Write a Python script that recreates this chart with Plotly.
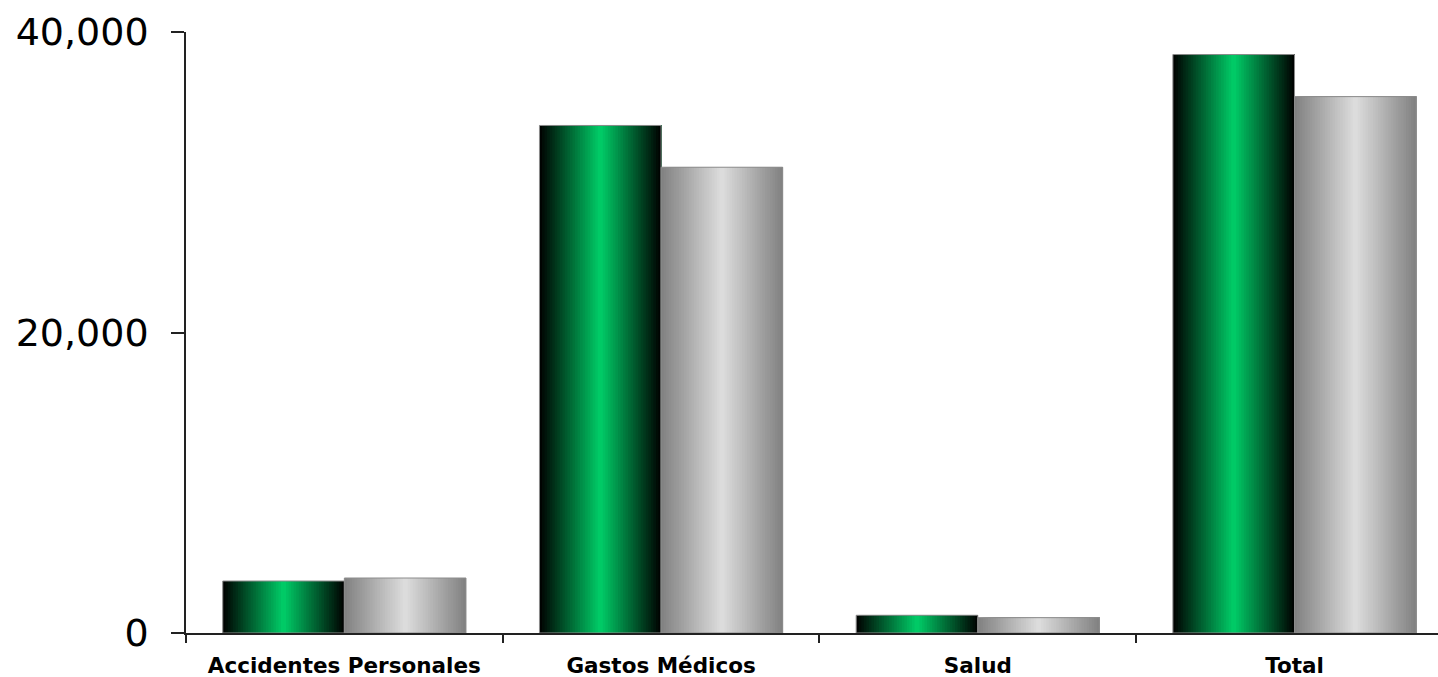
import plotly.graph_objects as go

# Data
categorias = ["Accidentes Personales", "Gastos Médicos", "Salud", "Total"]
serie_verde = [3460, 33780, 1180, 38500]
serie_gris = [3660, 31000, 1020, 35700]
y_ticks = [0, 20000, 40000]

BAR_W = 0.384          # width of each bar in category units
N_SLICES = 48          # number of vertical strips used to fake the horizontal gradient


def lerp(c0, c1, t):
    return tuple(round(a + (b - a) * t) for a, b in zip(c0, c1))


def gradient_traces(values, offset, edge_rgb, center_rgb):
    """Stack of strips, each running from its left edge to the bar's right edge,
    so later strips cover earlier ones and no seams appear."""
    traces = []
    step = BAR_W / N_SLICES
    for i in range(N_SLICES):
        t = (i + 0.5) / N_SLICES
        k = 1 - abs(2 * t - 1)          # 0 at the edges, 1 in the middle
        r, g, b = lerp(edge_rgb, center_rgb, k)
        start = offset + i * step
        traces.append(go.Bar(
            x=categorias, y=values,
            offset=start, width=BAR_W - i * step,
            marker=dict(color=f"rgb({r},{g},{b})", line=dict(width=0)),
            showlegend=False, hoverinfo="skip",
        ))
    # thin outline around the whole bar
    traces.append(go.Bar(
        x=categorias, y=values, offset=offset, width=BAR_W,
        marker=dict(color="rgba(0,0,0,0)", line=dict(color="#8c8c8c", width=1)),
        showlegend=False, hoverinfo="skip",
    ))
    return traces


fig = go.Figure()
for tr in gradient_traces(serie_verde, -BAR_W, (0, 0, 0), (0, 206, 104)):
    fig.add_trace(tr)
for tr in gradient_traces(serie_gris, 0.0, (128, 128, 128), (222, 222, 222)):
    fig.add_trace(tr)

fig.update_layout(
    width=1438, height=677,
    margin=dict(l=186, r=0, t=32, b=44),
    paper_bgcolor="white", plot_bgcolor="white",
    barmode="overlay",
    font=dict(family="DejaVu Sans", color="black"),
    xaxis=dict(
        range=[-0.5, 3.453],
        showline=True, linecolor="#222", linewidth=1.5,
        ticks="outside", tickson="boundaries", ticklen=8, tickcolor="#222", tickwidth=1.5,
        tickfont=dict(family="DejaVu Sans", size=21.5, color="black", weight="bold"),
        ticklabelstandoff=12,
        showgrid=False, zeroline=False, fixedrange=True,
    ),
    yaxis=dict(
        range=[0, 40000],
        tickvals=y_ticks, tickformat=",",
        showline=True, linecolor="#222", linewidth=1.5,
        ticks="outside", ticklen=13, tickcolor="#222", tickwidth=1.5,
        tickfont=dict(family="DejaVu Sans", size=38, color="black"),
        ticklabelstandoff=15,
        showgrid=False, zeroline=False, fixedrange=True,
    ),
)

fig.write_html("out.html")
